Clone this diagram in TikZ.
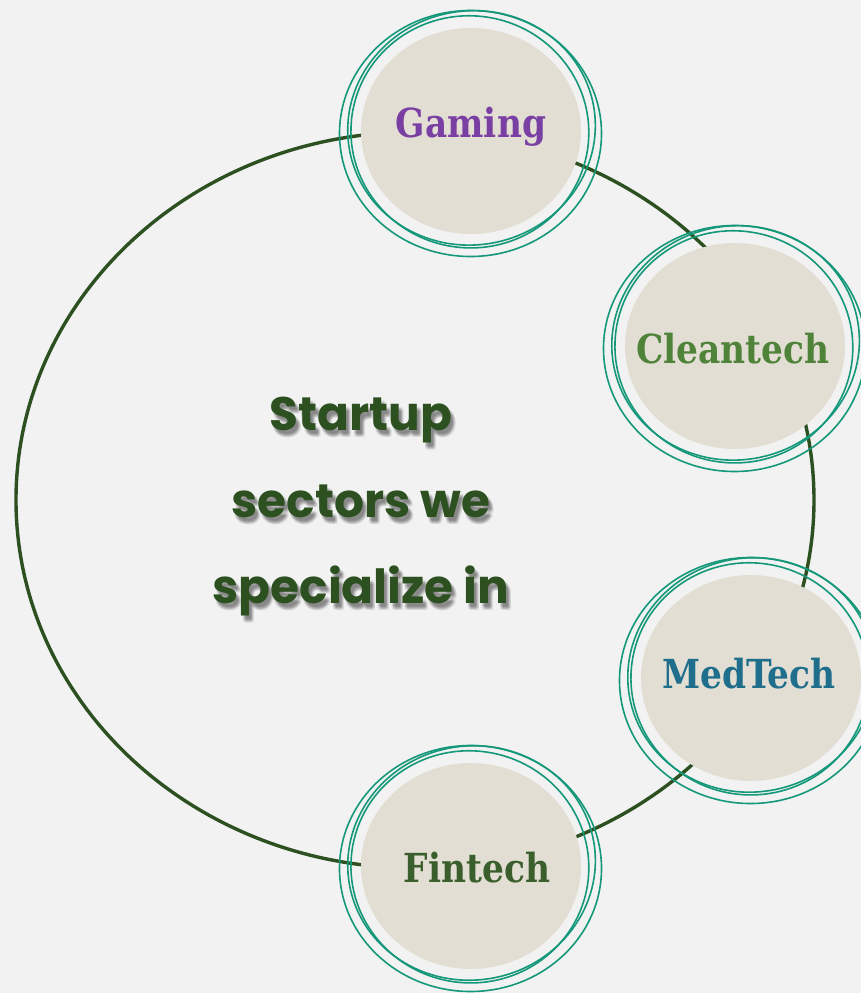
\documentclass[tikz,border=0pt]{standalone}
\usepackage{fontspec}
\newfontfamily\headfont{Poppins}
\newfontfamily\slabfont{DejaVu Serif}[FakeStretch=0.86]
\usetikzlibrary{shapes.geometric}
\definecolor{bg}{HTML}{F2F2F2}
\definecolor{beige}{HTML}{E3DED3}
\definecolor{ring}{HTML}{15987A}
\definecolor{conn}{HTML}{2C5020}
\definecolor{cgam}{HTML}{7A3FA3}
\definecolor{ccle}{HTML}{4F833A}
\definecolor{cmed}{HTML}{1F6E8C}
\definecolor{cfin}{HTML}{3A5F2C}
\definecolor{ctitle}{HTML}{2C5020}
\tikzset{
  bub/.style={ellipse, fill=beige, minimum width=220pt, minimum height=206pt, inner sep=0pt},
  ringline/.style={draw=ring, line width=1.6pt},
  connline/.style={draw=conn, line width=3.4pt},
  lab/.style={anchor=base, font=\slabfont\bfseries\fontsize{40}{40}\selectfont, inner sep=0pt},
  title/.style={anchor=base, font=\headfont\bfseries\fontsize{47}{47}\selectfont, inner sep=0pt, text=ctitle},
  shadowtxt/.style={anchor=base, font=\headfont\bfseries\fontsize{47}{47}\selectfont, inner sep=0pt, text=black, opacity=0.06}
}
\newcommand{\ringset}[1]{%
  \draw[ringline] ([shift={(-0.5,2.5)}]#1.center) ellipse [x radius=131pt, y radius=123pt];
  \draw[ringline, rotate around={10:(#1.center)}] ([shift={(1,-3)}]#1.center) ellipse [x radius=124pt, y radius=117pt];
  \draw[ringline, rotate around={-8:(#1.center)}] ([shift={(-1,1)}]#1.center) ellipse [x radius=119pt, y radius=116pt];
}
\begin{document}
\begin{tikzpicture}[x=1pt,y=-1pt]
\fill[bg] (0,0) rectangle (861,993);
\useasboundingbox (0,0) rectangle (861,993);
\coordinate (O) at (415,500);
\draw[connline] (O) ellipse [x radius=399pt, y radius=368pt];
\node[bub] (gam) at (471,131) {};
\node[bub] (cle) at (735,346) {};
\node[bub] (med) at (751,678) {};
\node[bub] (fin) at (471,866) {};
\ringset{gam}
\ringset{cle}
\ringset{med}
\ringset{fin}
\node[lab, text=cgam] (tgam) at (471,137) {Gaming};
\node[lab, text=ccle] (tcle) at (733,363) {Cleantech};
\node[lab, text=cmed] (tmed) at (749,688) {MedTech};
\node[lab, text=cfin] (tfin) at (477,882) {Fintech};
\foreach \dx/\dy in {2/4,3/5,4/6,3/3,5/5,2/6,4/4,3/7,5/7} {
  \node[shadowtxt] at (361+\dx,430+\dy) {Startup};
  \node[shadowtxt] at (361+\dx,517+\dy) {sectors we};
  \node[shadowtxt] at (361+\dx,603+\dy) {specialize in};
}
\node[title] (t1) at (361,430) {Startup};
\node[title] (t2) at (361,517) {sectors we};
\node[title] (t3) at (361,603) {specialize in};
\end{tikzpicture}
\end{document}
